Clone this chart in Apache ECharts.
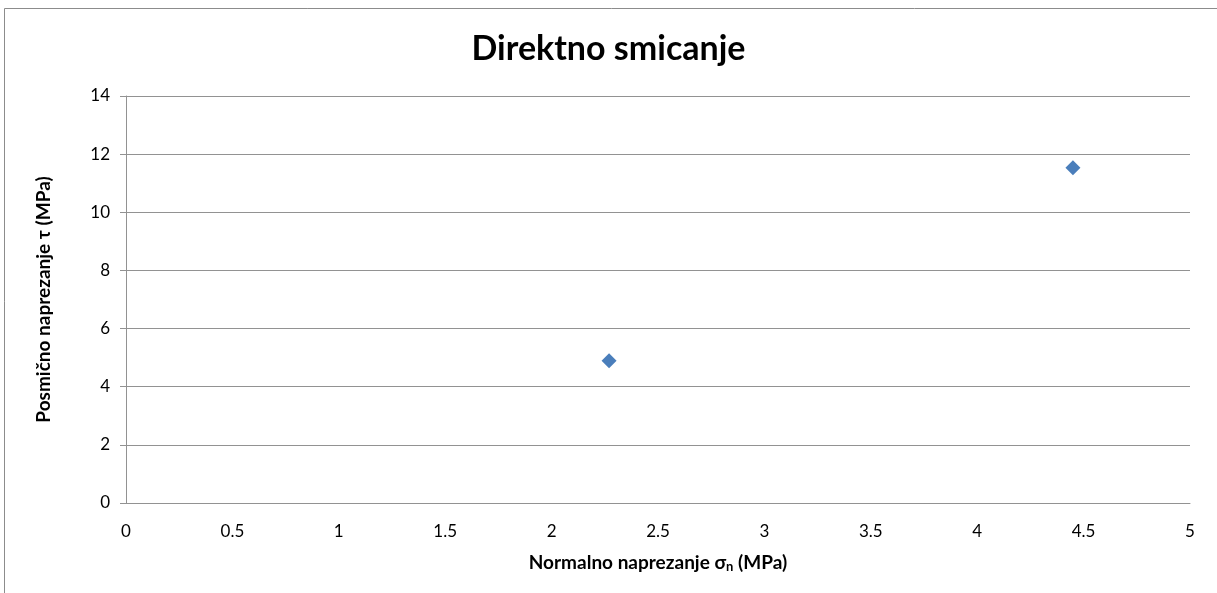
<!DOCTYPE html>
<html>
<head>
<meta charset="utf-8">
<script src="https://cdn.jsdelivr.net/npm/echarts@6/dist/echarts.min.js"></script>
<style>
  html, body { margin: 0; padding: 0; background: #fff; }
  #chart { width: 1217px; height: 593px; }
</style>
</head>
<body>
<div id="chart"></div>
<script>
// Direct shear test results: normal stress vs. shear stress
const normalStress = [2.27, 4.45];   // σn (MPa)
const shearStress  = [4.89, 11.53];  // τ (MPa)

const xAxisMin = 0, xAxisMax = 5, xAxisStep = 0.5;
const yAxisMin = 0, yAxisMax = 14, yAxisStep = 2;

const titleText = 'Direktno smicanje';
const yAxisTitle = 'Posmično naprezanje τ (MPa)';

const points = normalStress.map((x, i) => [x, shearStress[i]]);

const fontFamily = 'Lato, "Open Sans", sans-serif';
const gridColor = '#929292';

const chart = echarts.init(document.getElementById('chart'), null, { renderer: 'canvas' });
chart.setOption({
  animation: false,
  backgroundColor: '#ffffff',
  title: {
    text: titleText,
    left: 'center',
    top: 27,
    textStyle: { fontFamily, fontSize: 34, fontWeight: 'bold', color: '#000' }
  },
  grid: { left: 126, top: 96, right: 27, bottom: 90, containLabel: false },
  xAxis: {
    type: 'value',
    min: xAxisMin, max: xAxisMax, interval: xAxisStep,
    name: 'Normalno naprezanje σ{sub|n} (MPa)',
    nameLocation: 'middle',
    nameGap: 49,
    nameTextStyle: {
      fontFamily, fontSize: 19, fontWeight: 'bold', color: '#000',
      rich: { sub: { fontFamily, fontSize: 13, fontWeight: 'bold', color: '#000', verticalAlign: 'bottom', padding: [8, 0, 0, 0] } }
    },
    axisLine: { show: true, lineStyle: { color: gridColor, width: 1 } },
    axisTick: { show: false },
    axisLabel: { fontFamily, fontSize: 17, color: '#000', margin: 20 },
    splitLine: { show: false }
  },
  yAxis: {
    type: 'value',
    min: yAxisMin, max: yAxisMax, interval: yAxisStep,
    name: yAxisTitle,
    nameLocation: 'middle',
    nameGap: 73,
    nameTextStyle: { fontFamily, fontSize: 19, fontWeight: 'bold', color: '#000' },
    axisLine: { show: true, lineStyle: { color: gridColor, width: 1 } },
    axisTick: { show: true, inside: false, length: 6, lineStyle: { color: gridColor } },
    axisLabel: { fontFamily, fontSize: 17, color: '#000', margin: 16 },
    splitLine: { show: true, lineStyle: { color: gridColor, width: 1 } }
  },
  series: [{
    type: 'scatter',
    data: points,
    symbol: 'diamond',
    symbolSize: 15,
    itemStyle: { color: '#4a7ebb', opacity: 1 }
  }],
  graphic: [{
    type: 'rect',
    shape: { x: 4.5, y: 8.5, width: 1400, height: 800 },
    style: { fill: 'none', stroke: '#8c8c8c', lineWidth: 1 },
    silent: true
  }]
});
</script>
</body>
</html>
